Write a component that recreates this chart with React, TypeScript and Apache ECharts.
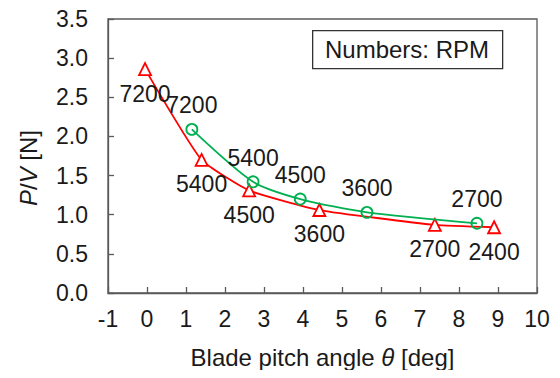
import React, { useEffect, useRef } from "react";
import * as echarts from "echarts";

const redX = [-0.05, 1.4, 2.62, 4.42, 7.38, 8.9];
const redY = [2.86, 1.7, 1.31, 1.06, 0.87, 0.84];
const redLabels = ["7200", "5400", "4500", "3600", "2700", "2400"];

const greenX = [1.15, 2.72, 3.93, 5.64, 8.46];
const greenY = [2.09, 1.42, 1.2, 1.03, 0.89];
const greenLabels = ["7200", "5400", "4500", "3600", "2700"];

const xTicks = { min: -1, max: 10, interval: 1 };
const yTicks = { min: 0, max: 3.5, interval: 0.5 };

const FONT = "'Liberation Sans', Arial, sans-serif";
const TXT = "#1a1a1a";
const AXC = "#595959";
const FS = 23;
const FS_NAME = 24;

export default function App() {
  const ref = useRef<HTMLDivElement>(null);
  useEffect(() => {
    if (!ref.current) return;
    const chart = echarts.init(ref.current, undefined, { renderer: "svg" });
    const redData = redX.map((x, i) => ({ value: [x, redY[i]], name: redLabels[i] }));
    const greenData = greenX.map((x, i) => ({ value: [x, greenY[i]], name: greenLabels[i] }));
    const italic = { fontStyle: "italic", fontSize: FS_NAME, color: TXT, fontFamily: FONT };
    chart.setOption({
      animation: false,
      textStyle: { fontFamily: FONT },
      grid: {
        left: 108,
        right: 23,
        top: 19,
        bottom: 85,
        show: true,
        borderColor: AXC,
        borderWidth: 1.3,
        containLabel: false,
      },
      xAxis: {
        type: "value",
        min: xTicks.min,
        max: xTicks.max,
        interval: xTicks.interval,
        axisLine: { show: true, onZero: false, lineStyle: { color: AXC, width: 1.3 } },
        axisTick: { show: true, inside: true, length: 6, lineStyle: { color: AXC, width: 1.3 } },
        splitLine: { show: false },
        axisLabel: { fontSize: FS, color: TXT, margin: 14, fontFamily: FONT },
        name: "Blade pitch angle {i|θ} [deg]",
        nameLocation: "middle",
        nameGap: 52,
        nameTextStyle: {
          fontSize: FS_NAME,
          color: TXT,
          fontFamily: FONT,
          rich: { i: italic },
        },
      },
      yAxis: {
        type: "value",
        min: yTicks.min,
        max: yTicks.max,
        interval: yTicks.interval,
        axisLine: { show: true, onZero: false, lineStyle: { color: AXC, width: 1.3 } },
        axisTick: { show: true, inside: true, length: 6, lineStyle: { color: AXC, width: 1.3 } },
        splitLine: { show: false },
        axisLabel: {
          fontSize: FS,
          color: TXT,
          margin: 20,
          fontFamily: FONT,
          formatter: (v: number) => v.toFixed(1),
        },
      },
      series: [
        {
          type: "line",
          data: redData,
          smooth: 0.15,
          symbol: "triangle",
          symbolSize: 12,
          showAllSymbol: true,
          lineStyle: { color: "#ff0000", width: 1.8 },
          itemStyle: { color: "#ffffff", borderColor: "#ff0000", borderWidth: 1.8 },
          label: {
            show: true,
            position: "bottom",
            distance: 6,
            formatter: (p: any) => p.name,
            fontSize: FS,
            color: TXT,
            fontFamily: FONT,
          },
          z: 2,
        },
        {
          type: "line",
          data: greenData,
          smooth: 0.25,
          symbol: "circle",
          symbolSize: 11,
          showAllSymbol: true,
          lineStyle: { color: "#00b050", width: 1.8 },
          itemStyle: { color: "rgba(255,255,255,0)", borderColor: "#00b050", borderWidth: 1.8 },
          label: {
            show: true,
            position: "top",
            distance: 6,
            formatter: (p: any) => p.name,
            fontSize: FS,
            color: TXT,
            fontFamily: FONT,
          },
          z: 3,
        },
      ],
      graphic: [
        {
          type: "text",
          x: 28,
          y: 168,
          rotation: Math.PI / 2,
          style: {
            text: "{i|P}/{i|V} [N]",
            fontSize: FS_NAME,
            fontFamily: FONT,
            fill: TXT,
            align: "center",
            verticalAlign: "middle",
            rich: { i: italic },
          },
        },
        {
          type: "rect",
          left: 312,
          top: 30,
          shape: { width: 190, height: 38 },
          style: { fill: "#ffffff", stroke: "#333333", lineWidth: 1.3 },
          z: 10,
        },
        {
          type: "text",
          x: 407,
          y: 49,
          style: {
            text: "Numbers: RPM",
            fontSize: FS_NAME,
            fontFamily: FONT,
            fill: TXT,
            align: "center",
            verticalAlign: "middle",
          },
          z: 11,
        },
      ],
    });
    return () => chart.dispose();
  }, []);
  return <div ref={ref} style={{ width: 560, height: 378, margin: -8, background: "#fff" }} />;
}
